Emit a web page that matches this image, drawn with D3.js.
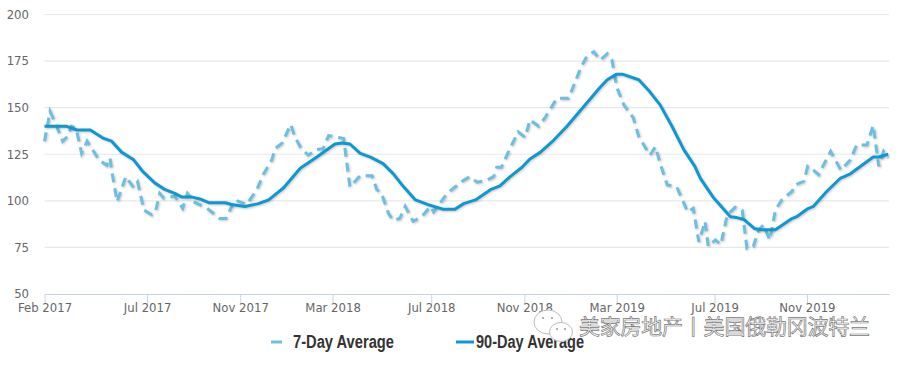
<!DOCTYPE html>
<html>
<head>
<meta charset="utf-8">
<script src="https://cdn.jsdelivr.net/npm/d3@7"></script>
<style>
html,body{margin:0;padding:0;background:#fff;}
svg{display:block;}
.axis text{font-family:"DejaVu Sans",sans-serif;font-size:11.7px;fill:#666;}
.legend-text{font-family:"Liberation Sans",sans-serif;font-size:18px;font-weight:bold;fill:#333;}
.mark-text{font-family:"Noto Sans CJK SC",sans-serif;font-size:21px;fill:#fff;stroke:#777;stroke-width:.7px;}
</style>
</head>
<body>
<svg id="chart" width="900" height="367"></svg>
<script>
//values, x is days along the axis from the first label
var yTicks = [50, 75, 100, 125, 150, 175, 200];
var xTickDays = [0, 130, 248, 365, 490, 608, 725, 849, 966];
var xTickLabels = ["Feb 2017","Jul 2017","Nov 2017","Mar 2018","Jul 2018","Nov 2018","Mar 2019","Jul 2019","Nov 2019"];
var legendLabels = ["7-Day Average", "90-Day Average"];
var watermark = "美家房地产丨美国俄勒冈波特兰";

var days7 = [0,7,13,23,30,34,40,47,54,69,79,83,85,92,103,113,118,126,136,141,146,151,165,175,181,189,206,222,230,241,256,269,277,288,292,301,312,317,324,334,345,353,360,379,387,400,415,421,427,436,442,450,457,467,478,489,493,510,531,539,548,560,569,573,579,588,600,609,615,626,634,649,664,679,687,696,704,713,719,725,734,746,753,767,774,782,789,801,815,822,829,837,841,850,857,865,875,884,890,898,905,911,919,926,934,947,951,962,967,974,981,986,996,1009,1021,1029,1042,1050,1057,1063,1069];
var values7 = [132,148,142.5,132,135,140,139,125.5,132,122,119,123,116.5,99.5,113,107,110,95,92.5,95,104,101.5,102.5,96,104,99.5,96,90.5,90.5,100.5,98,106,114,122,128,131,141,134.5,129,124.5,127.5,128,135,133.5,107.5,113.5,113.5,106,104,93,89.5,90.5,97,89,91.5,97,94,104,111,113,110,111,113,118,118,126.5,137,134,143.5,140,144.5,155,155,171,177.5,180,175.5,179,175.5,161,151.5,144.5,134.5,124.5,129,117.5,108.5,107.5,94,96,78,89,75.5,79,76.5,92.5,96.5,95,74.5,75.5,84.5,87,79,95,100.5,105,108.5,110.5,118.5,116.5,114,118.5,126.5,116.5,122,130,130,140.5,118.5,126.5,123];

var days90 = [0,28,41,58,75,85,98,113,125,140,153,165,174,187,197,208,229,237,254,271,284,303,324,345,368,377,387,400,413,429,442,455,470,486,505,520,531,546,565,577,590,605,615,628,645,662,683,704,713,725,732,753,767,780,795,810,824,831,848,869,877,886,900,909,926,947,953,966,974,991,1008,1021,1050,1057,1069];
var values90 = [140,140,138,138,133.5,132,126,122,115.5,109.5,106,104,102,102,101,99,99,98,97,98.5,100.5,107,117.5,123.5,130.5,131,130.5,125.5,123.5,120,114.5,107.5,100.5,98,95.5,95.5,98.5,100.5,106,108,113,118,122.5,126,132.5,140,150.5,161,165,168,168,165,158.5,151.5,140,127.5,118.5,112,101.5,91.5,91,90,85,84.5,84.5,90.5,91.5,95.5,97,105,112,114.5,123.5,123.5,125];

var color7 = "#6cbfe0";
var color90 = "#0f97d1";
var axisColor = "#c6d4e4";

var svg = d3.select("#chart");
var x = d3.scaleLinear().domain([0, 1070]).range([44.5, 889]);
var y = d3.scaleLinear().domain([50, 200]).range([294, 14.5]);

//grid
svg.append("g").selectAll("line").data(yTicks.slice(1)).enter().append("line")
    .attr("x1", x(0)).attr("x2", x(1070))
    .attr("y1", d => y(d)).attr("y2", d => y(d))
    .attr("stroke", "#e8e8e8").attr("stroke-width", 1.2);

//axes
var xAxis = d3.axisBottom(x).tickValues(xTickDays).tickSize(10).tickSizeOuter(0)
    .tickFormat((d, i) => xTickLabels[i]);
var gx = svg.append("g").attr("class", "axis").attr("transform", "translate(0,294)").call(xAxis);
gx.select(".domain").attr("stroke", axisColor).attr("stroke-width", 1);
gx.selectAll(".tick line").attr("stroke", axisColor);
gx.selectAll(".tick text").attr("y", 10).attr("dy", "0.71em");

var yAxis = d3.axisLeft(y).tickValues(yTicks).tickSize(0);
var gy = svg.append("g").attr("class", "axis").attr("transform", "translate(36,0)").call(yAxis);
gy.select(".domain").remove();
gy.selectAll(".tick text").attr("x", -7);

//lines
var shadow = "drop-shadow(1px 1px 1px rgba(0,0,0,0.22))";
var line = d3.line().x(d => x(d[0])).y(d => y(d[1]));
svg.append("path").datum(d3.zip(days7, values7))
    .attr("d", line).attr("fill", "none")
    .attr("stroke", color7).attr("stroke-width", 3).attr("stroke-dasharray", "9,6")
    .style("filter", shadow);
svg.append("path").datum(d3.zip(days90, values90))
    .attr("d", line).attr("fill", "none")
    .attr("stroke", color90).attr("stroke-width", 3).attr("stroke-linejoin", "round")
    .style("filter", shadow);

//legend
var legendX = [271, 456];
var legendW = [11, 18];
var legendTextX = [293, 476];
var legendTextW = [101, 108];
var legend = svg.append("g").selectAll("g").data(legendLabels).enter().append("g");
legend.append("line")
    .attr("x1", (d, i) => legendX[i]).attr("x2", (d, i) => legendX[i] + legendW[i])
    .attr("y1", 342).attr("y2", 342)
    .attr("stroke", (d, i) => i == 0 ? color7 : color90).attr("stroke-width", 3);
legend.append("text").attr("class", "legend-text")
    .attr("x", (d, i) => legendTextX[i]).attr("y", 348)
    .attr("textLength", (d, i) => legendTextW[i]).attr("lengthAdjust", "spacingAndGlyphs")
    .text(d => d);

//watermark
var icon = svg.append("g").attr("fill", "#fff").attr("stroke", "#bbb").attr("stroke-width", 1);
icon.append("ellipse").attr("cx", 548).attr("cy", 322).attr("rx", 14).attr("ry", 12);
icon.append("ellipse").attr("cx", 561).attr("cy", 332).attr("rx", 11.5).attr("ry", 9.5);
var eyes = [[543,318],[552,318],[557,329],[565,329]];
svg.append("g").selectAll("circle").data(eyes).enter().append("circle")
    .attr("cx", d => d[0]).attr("cy", d => d[1]).attr("r", 1).attr("fill", "#999");
svg.append("text").attr("class", "mark-text").attr("x", 579).attr("y", 334)
    .attr("textLength", 291).text(watermark);
</script>
</body>
</html>
